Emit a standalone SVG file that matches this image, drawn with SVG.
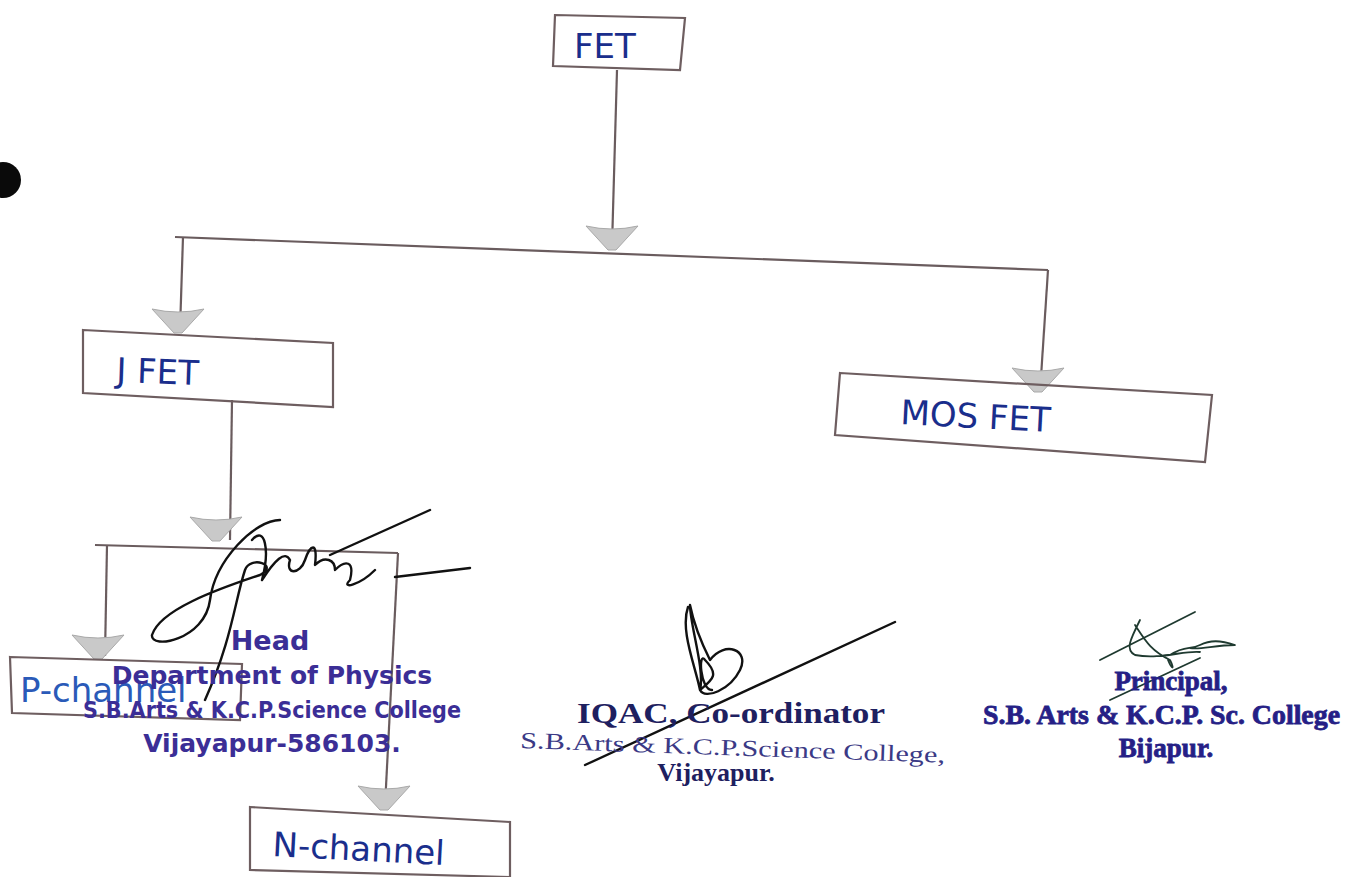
<svg xmlns="http://www.w3.org/2000/svg" width="1353" height="877" viewBox="0 0 1353 877">
<defs>
<style>
.box{fill:none;stroke:#6e5e60;stroke-width:2.2}
.ln{fill:none;stroke:#6a5c5e;stroke-width:2.2}
.hw{font-family:"DejaVu Sans",sans-serif;fill:#1a2e8c;font-size:34px}
.head{font-family:"DejaVu Sans",sans-serif;fill:#3b2e96;font-weight:bold}
.iq{font-family:"Liberation Serif",serif;fill:#1e2060;font-weight:bold}
.pr{font-family:"Liberation Serif",serif;fill:#261f86;font-weight:bold;stroke:#261f86;stroke-width:0.8}
.sig{fill:none;stroke:#111;stroke-width:2.4;stroke-linecap:round;stroke-linejoin:round}
</style>
<path id="arr" d="M-26,-22 Q0,-16 26,-22 L4,2 L-4,2 Z" fill="#c9c9c9" stroke="#a9a9a9" stroke-width="1"/>
</defs>
<rect width="1353" height="877" fill="#ffffff"/>
<circle cx="3" cy="180" r="18" fill="#0a0a0a"/>

<g id="connectors">
<path class="ln" d="M617,70 L612,246"/>
<use href="#arr" x="612" y="248"/>
<path class="ln" d="M175,237 L1048,270"/>
<path class="ln" d="M183,237 L180,330"/>
<use href="#arr" x="178" y="331"/>
<path class="ln" d="M1048,270 L1040,392"/>
<use href="#arr" x="1038" y="390"/>
<path class="ln" d="M232,400 L230,540"/>
<use href="#arr" x="216" y="539"/>
<path class="ln" d="M95,545 L398,553"/>
<path class="ln" d="M107,545 L105,656"/>
<use href="#arr" x="98" y="657"/>
<path class="ln" d="M398,553 L385,806"/>
<use href="#arr" x="384" y="808"/>
</g>

<g id="fet">
<polygon class="box" points="555,15 685,18 680,70 553,66"/>
<text class="hw" x="574" y="58" font-size="31">FET</text>
</g>
<g id="jfet">
<polygon class="box" points="83,330 333,343 333,407 83,393"/>
<text class="hw" x="116" y="382" transform="rotate(2 116 382)">J FET</text>
</g>
<g id="mosfet">
<polygon class="box" points="840,373 1212,395 1205,462 835,435"/>
<text class="hw" x="900" y="424" transform="rotate(3 900 424)">MOS FET</text>
</g>
<g id="pchannel">
<polygon class="box" points="10,657 242,664 240,720 12,713"/>
<text class="hw" x="20" y="702" style="fill:#2a5ab8" font-size="31">P-channel</text>
</g>
<g id="nchannel">
<polygon class="box" points="250,807 510,822 510,877 250,870"/>
<text class="hw" x="272" y="856" transform="rotate(3 272 856)" font-size="31">N-channel</text>
</g>

<g id="stamp-head">
<path class="sig" d="M330,555 L430,510 M395,577 L470,568 M280,520 C255,520 215,560 210,600 C205,640 150,650 152,635 C160,610 215,590 260,575 C280,565 250,555 245,570 C235,600 232,640 205,700 M252,540 C265,525 270,550 262,580 C275,560 285,550 290,560 C285,575 300,575 305,560 C310,545 318,540 315,565 C325,555 335,560 335,570 C345,560 355,560 350,580 C340,590 360,585 375,570"/>
<text class="head" x="270" y="650" font-size="27" text-anchor="middle">Head</text>
<text class="head" x="272" y="684" font-size="25" text-anchor="middle" style="font-weight:600">Department of Physics</text>
<text class="head" x="272" y="718" font-size="23" text-anchor="middle" textLength="378" lengthAdjust="spacingAndGlyphs">S.B.Arts &amp; K.C.P.Science College</text>
<text class="head" x="272" y="752" font-size="25" text-anchor="middle">Vijayapur-586103.</text>
</g>

<g id="stamp-iqac">
<path class="sig" d="M895,622 L585,765 M688,607 C680,630 695,665 700,690 C705,670 690,625 690,605 C695,630 705,650 710,660 C725,640 750,650 740,670 C730,690 705,700 700,690 C712,680 720,675 705,660 C698,650 700,690 712,690"/>
<text class="iq" x="577" y="723" font-size="30" textLength="308" lengthAdjust="spacingAndGlyphs">IQAC, Co-ordinator</text>
<text class="iq" x="520" y="748" font-size="23" style="font-weight:normal;fill:#3b3a86" textLength="425" lengthAdjust="spacingAndGlyphs" transform="rotate(2 520 748)">S.B.Arts &amp; K.C.P.Science College,</text>
<text class="iq" x="716" y="781" font-size="26" text-anchor="middle">Vijayapur.</text>
</g>

<g id="stamp-principal">
<path class="sig" style="stroke:#1f3a30;stroke-width:1.8" d="M1100,660 L1195,612 M1110,700 L1200,658 M1140,620 C1130,640 1125,650 1135,655 C1160,660 1185,650 1200,652 M1135,625 C1145,640 1150,650 1170,660 C1175,670 1172,670 1168,660 M1170,655 C1185,645 1190,650 1200,645 C1210,640 1220,640 1235,645 C1215,645 1200,650 1190,648"/>
<text class="pr" x="1171" y="690" font-size="27" text-anchor="middle">Principal,</text>
<text class="pr" x="983" y="724" font-size="27" textLength="357" lengthAdjust="spacingAndGlyphs">S.B. Arts &amp; K.C.P. Sc. College</text>
<text class="pr" x="1166" y="757" font-size="27" text-anchor="middle">Bijapur.</text>
</g>
</svg>
